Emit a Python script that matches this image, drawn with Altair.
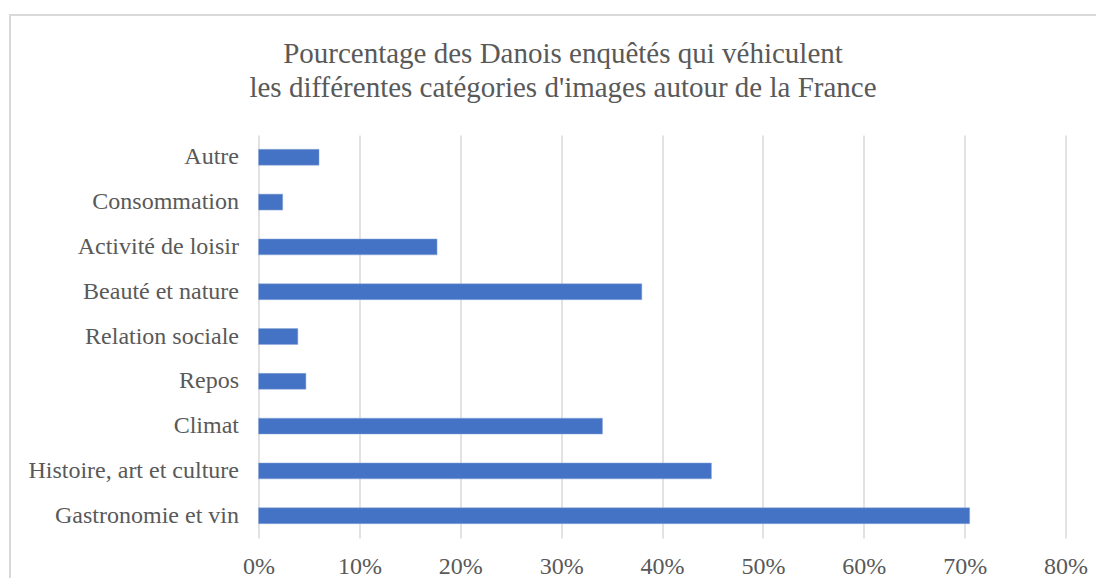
import altair as alt
import pandas as pd

categories = ["Autre", "Consommation", "Activité de loisir", "Beauté et nature",
              "Relation sociale", "Repos", "Climat", "Histoire, art et culture",
              "Gastronomie et vin"]
values = [0.060, 0.024, 0.177, 0.380, 0.039, 0.047, 0.341, 0.449, 0.705]
x_ticks = [0, 0.1, 0.2, 0.3, 0.4, 0.5, 0.6, 0.7, 0.8]
title_lines = ["Pourcentage des Danois enquêtés qui véhiculent",
               "les différentes catégories d'images autour de la France"]

df = pd.DataFrame({"cat": categories, "val": values})

FONT = "'Times New Roman', 'Liberation Serif', 'DejaVu Serif', serif"
GRAY = "#595959"

bars = alt.Chart(df).mark_bar(color="#4472C4", stroke="#8EA9DB", strokeWidth=0.5).encode(
    x=alt.X("val:Q",
            scale=alt.Scale(domain=[0, 0.8], nice=False),
            axis=alt.Axis(values=x_ticks, format=".0%", title=None,
                          grid=True, gridColor="#d9d9d9", gridWidth=1.5,
                          domain=False, ticks=False, labelFlush=False,
                          labelFont=FONT, labelFontSize=24, labelColor=GRAY,
                          labelPadding=16)),
    y=alt.Y("cat:N", sort=categories,
            scale=alt.Scale(paddingInner=0.645, paddingOuter=0.32),
            axis=alt.Axis(title=None, domain=False, ticks=False, grid=False,
                          labelFont=FONT, labelFontSize=24, labelColor=GRAY,
                          labelPadding=20, labelLimit=400)),
)

border = alt.Chart(df).mark_rect(fill=None, stroke="#d9d9d9", strokeWidth=2, clip=False).encode(
    x=alt.value(-248.5), x2=alt.value(900), y=alt.value(-120), y2=alt.value(520)
)

title1 = alt.Chart(pd.DataFrame({"t": [title_lines[0]]})).mark_text(
    font=FONT, fontSize=29, color=GRAY, align="center", baseline="alphabetic"
).encode(text="t:N", x=alt.value(304.5), y=alt.value(-72))

title2 = alt.Chart(pd.DataFrame({"t": [title_lines[1]]})).mark_text(
    font=FONT, fontSize=29, color=GRAY, align="center", baseline="alphabetic"
).encode(text="t:N", x=alt.value(304.5), y=alt.value(-38))

chart = alt.layer(border, bars, title1, title2).properties(
    width=807,
    height=403,
    autosize=alt.AutoSizeParams(type="none"),
    padding={"left": 250.5, "top": 127, "right": 30, "bottom": 40},
).configure(background="white").configure_view(stroke=None)

chart.save("out.html", embed_options={"renderer": "svg", "actions": False})
